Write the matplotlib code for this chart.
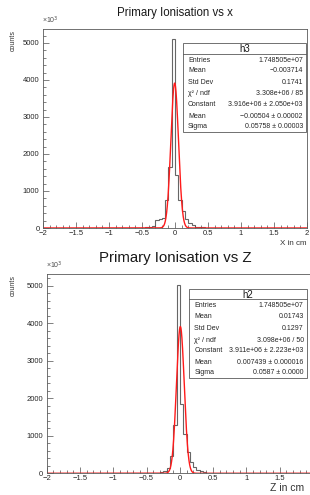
import numpy as np
import matplotlib.pyplot as plt
from matplotlib.patches import Rectangle
from matplotlib.ticker import MultipleLocator

plt.rcParams['font.family'] = ['Liberation Sans', 'DejaVu Sans']

W, H = 310, 495

# Histogram binning: 80 bins from -2 to 2 cm, counts in units of 10^3
n_bins = 80
x_range = (-2.0, 2.0)

# Primary ionisation vs x: lower bin edges with non-zero content, counts (x10^3)
x_bin_lo = [-0.45, -0.40, -0.35, -0.30, -0.25, -0.20, -0.15, -0.10, -0.05,
            0.00, 0.05, 0.10, 0.15, 0.20, 0.25, 0.30, 0.35, 0.40, 0.45]
x_counts = [15, 40, 60, 220, 230, 270, 765, 1650, 5100,
            1430, 770, 450, 230, 140, 90, 40, 30, 15, 8]

# Primary ionisation vs Z
z_bin_lo = [-0.45, -0.40, -0.35, -0.30, -0.25, -0.20, -0.15, -0.10, -0.05,
            0.00, 0.05, 0.10, 0.15, 0.20, 0.25, 0.30, 0.35, 0.40, 0.45]
z_counts = [5, 10, 15, 25, 60, 150, 450, 1300, 5020,
            1860, 1050, 570, 310, 180, 100, 50, 30, 20, 10]

# Gaussian fit results (constant in units of 10^3)
x_fit = {'const': 3916.0, 'mean': -0.00504, 'sigma': 0.05758}
z_fit = {'const': 3911.0, 'mean': 0.007439, 'sigma': 0.0587}

# Stats box texts
x_stats_names = ['Entries', 'Mean', 'Std Dev', 'χ² / ndf', 'Constant', 'Mean', 'Sigma']
x_stats_vals = ['1.748505e+07', '\u22120.003714', '0.1741', '3.308e+06 / 85',
                '3.916e+06 ± 2.050e+03', '\u22120.00504 ± 0.00002', '0.05758 ± 0.00003']
z_stats_names = ['Entries', 'Mean', 'Std Dev', 'χ² / ndf', 'Constant', 'Mean', 'Sigma']
z_stats_vals = ['1.748505e+07', '0.01743', '0.1297', '3.098e+06 / 50',
                '3.911e+06 ± 2.223e+03', '0.007439 ± 0.000016', '0.0587 ± 0.0000']


def fx(px):
    return px / W


def fy(py):
    return 1 - py / H


def full_hist(lo, counts):
    edges = np.linspace(x_range[0], x_range[1], n_bins + 1)
    vals = np.zeros(n_bins)
    for l, c in zip(lo, counts):
        idx = int(round((l - x_range[0]) / (edges[1] - edges[0])))
        vals[idx] = c
    return edges, vals


def make_xfmt(xmax_label):
    def xfmt(v, p):
        if v > xmax_label + 1e-9:
            return ''
        if abs(v) < 1e-9:
            return '0'
        return ('%g' % v).replace('-', '\u2212')
    return xfmt


def draw_panel(fig, box, ymax, lo, counts, fit, xlabel, xlab_size, xlab_x, xmax_label,
               title, title_size, title_y, stats_box, hist_name, names, vals):
    left, right, top, bottom = box
    ax = fig.add_axes([fx(left), fy(bottom), fx(right) - fx(left), fy(top) - fy(bottom)])
    edges, hv = full_hist(lo, counts)
    ax.stairs(hv, edges, color='0.4', lw=0.8)

    xs = np.linspace(x_range[0], x_range[1], 2000)
    ys = fit['const'] * np.exp(-0.5 * ((xs - fit['mean']) / fit['sigma']) ** 2)
    ax.plot(xs, ys, color='#ff1a1a', lw=1.0)

    ax.set_xlim(*x_range)
    ax.set_ylim(0, ymax)
    ax.xaxis.set_major_locator(MultipleLocator(0.5))
    ax.xaxis.set_minor_locator(MultipleLocator(0.1))
    ax.yaxis.set_major_locator(MultipleLocator(1000))
    ax.yaxis.set_minor_locator(MultipleLocator(200))
    ax.xaxis.set_major_formatter(plt.FuncFormatter(make_xfmt(xmax_label)))
    ax.yaxis.set_major_formatter(plt.FuncFormatter(lambda v, p: '%d' % v))
    ax.tick_params(which='both', direction='in', labelsize=5.5, color='0.3', width=0.5,
                   top=False, right=False, labelcolor='0.15')
    ax.tick_params(which='major', length=4.5, pad=1.5)
    ax.tick_params(axis='y', which='major', pad=2.5)
    ax.tick_params(which='minor', length=2.2)
    for s in ax.spines.values():
        s.set_linewidth(0.6)
        s.set_color('0.35')

    # titles and axis texts
    fig.text(fx(175), fy(title_y), title, ha='center', va='center', fontsize=title_size,
             color='0.1')
    fig.text(fx(xlab_x), fy(bottom + 15), xlabel, ha='right', va='center',
             fontsize=xlab_size, color='0.2')
    fig.text(fx(13), fy(top + 1), 'counts', ha='center', va='top', rotation=90,
             fontsize=5, color='0.2')
    fig.text(fx(left - 1), fy(top - 3), '×10$^3$', ha='left', va='bottom',
             fontsize=5, color='0.3')

    # stats box
    bl, br, bt, bb, hline, hy, rows = stats_box
    fig.patches.append(Rectangle((fx(bl), fy(bb)), fx(br) - fx(bl), fy(bt) - fy(bb),
                                 transform=fig.transFigure, facecolor='white',
                                 edgecolor='0.35', lw=0.6, zorder=5))
    fig.lines.append(plt.Line2D([fx(bl), fx(br)], [fy(hline), fy(hline)],
                                transform=fig.transFigure, color='0.35', lw=0.6, zorder=6))
    fig.text(fx((bl + br) / 2), fy(hy), hist_name, ha='center', va='center',
             fontsize=7, zorder=7, color='0.1')
    for ry, n, v in zip(rows, names, vals):
        fig.text(fx(bl + 5), fy(ry), n, ha='left', va='center', fontsize=5,
                 color='0.15', zorder=7)
        fig.text(fx(br - 3), fy(ry), v, ha='right', va='center', fontsize=5,
                 color='0.15', zorder=7)
    return ax


fig = plt.figure(figsize=(W / 100, H / 100), dpi=100)

draw_panel(fig, (43, 307, 29, 228), 5378, x_bin_lo, x_counts, x_fit,
           'X in cm', 5.8, 306, 2.0, 'Primary Ionisation vs x', 8.3, 13,
           (183, 306, 43, 132, 54.3, 48.5, [60, 71, 82, 93.7, 105, 116.5, 127]),
           'h3', x_stats_names, x_stats_vals)

# bottom frame runs past the right edge of the canvas, so its "2" label is off-picture
draw_panel(fig, (46.7, 313, 274.3, 473.3), 5304, z_bin_lo, z_counts, z_fit,
           'Z in cm', 7.5, 304, 1.5, 'Primary Ionisation vs Z', 10.8, 258,
           (189.3, 306.7, 289, 377.7, 299.3, 295.5, [305.7, 317, 328.7, 340, 351, 362, 373]),
           'h2', z_stats_names, z_stats_vals)

plt.savefig('out.png', dpi=100)
